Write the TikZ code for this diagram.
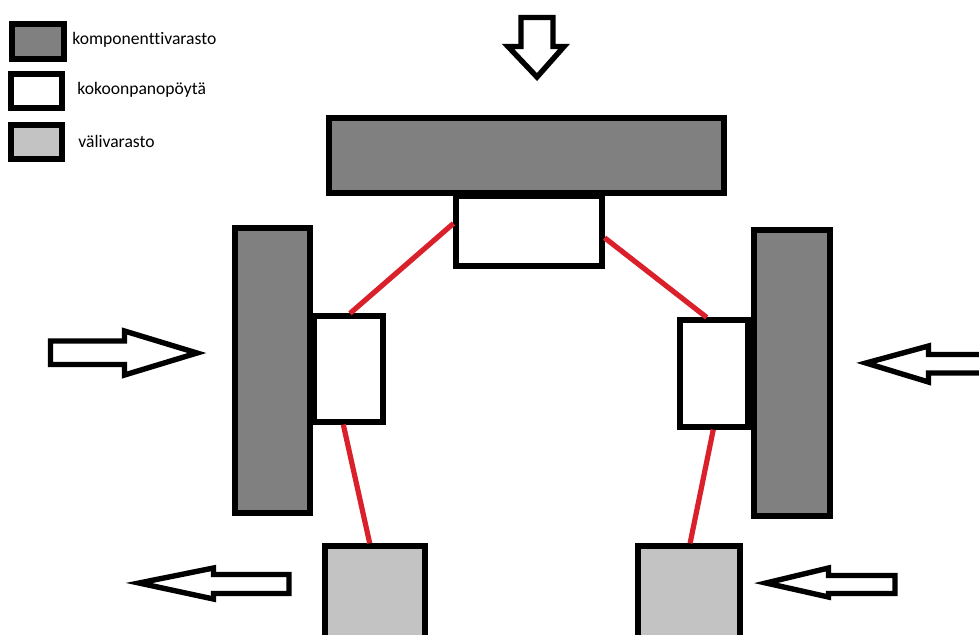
\documentclass[tikz,border=0pt]{standalone}
\usepackage{fontspec}
\setmainfont[Ligatures={NoCommon}]{Carlito}
\usetikzlibrary{calc}
\definecolor{darkbox}{RGB}{128,128,128}
\definecolor{lightbox}{RGB}{195,195,195}
\definecolor{redline}{RGB}{218,33,43}
\tikzset{
  box/.style={draw=black, line width=2.75pt, inner sep=0pt, rectangle},
  darkst/.style={box, fill=darkbox},
  whitest/.style={box, fill=white, line width=2.6pt},
  lightst/.style={box, fill=lightbox},
  link/.style={draw=redline, line width=2.6pt},
  bigarrow/.style={draw=black, fill=white, line width=2.7pt, line join=miter},
  legtext/.style={anchor=base west, inner sep=0pt, font=\fontsize{8.8}{10.5}\selectfont}
}
\begin{document}
\begin{tikzpicture}[x=0.5pt,y=-0.5pt]
\useasboundingbox (0,0) rectangle (979,634);
\clip (0,0) rectangle (979,634);
\fill[white] (0,0) rectangle (979,634);
% legend
\node[darkst, minimum width=26pt, minimum height=17.5pt] (l1) at (38,41.5) {};
\node[whitest, minimum width=25.5pt, minimum height=17pt] (l2) at (36.5,91) {};
\node[lightst, minimum width=25.5pt, minimum height=17pt] (l3) at (36.5,142) {};
\node[legtext] (t1) at (72,44) {komponenttivarasto};
\node[legtext] (t2) at (77,94) {kokoonpanopöytä};
\node[legtext] (t3) at (78,147) {välivarasto};
% boxes
\node[darkst, minimum width=197.5pt, minimum height=37.5pt] (topD) at (526.5,155.5) {};
\node[whitest, minimum width=73pt, minimum height=35pt] (topW) at (529,231) {};
\node[darkst, minimum width=37.5pt, minimum height=142.5pt] (leftD) at (272.5,370.5) {};
\node[whitest, minimum width=34.5pt, minimum height=53pt] (leftW) at (348.5,369) {};
\node[darkst, minimum width=38pt, minimum height=143pt] (rightD) at (792,373) {};
\node[whitest, minimum width=34pt, minimum height=53.5pt] (rightW) at (714,373.5) {};
\node[lightst, minimum width=50pt, minimum height=77pt] (botL) at (375,623) {};
\node[lightst, minimum width=51pt, minimum height=77pt] (botR) at (689,623) {};
% red links
\draw[link] ($(topW.north west)!0.4!(topW.south west)$) -- ($(leftW.north west)!0.52!(leftW.north east)$);
\draw[link] ($(topW.north east)!0.59!(topW.south east)$) -- ($(rightW.north west)!0.4!(rightW.north east)$);
\draw[link] ($(leftW.south west)!0.43!(leftW.south east)$) -- ($(botL.north west)!0.45!(botL.north east)$);
\draw[link] ($(rightW.south west)!0.49!(rightW.south east)$) -- ($(botR.north west)!0.51!(botR.north east)$);
% arrows
\draw[bigarrow] (521,17.5) -- (553,17.5) -- (553,46.5) -- (564,46.5) -- (537,77) -- (508,46.5) -- (521,46.5) -- cycle;
\draw[bigarrow] (50.5,341) -- (124.5,341) -- (124.5,331) -- (197,353) -- (124.5,375) -- (124.5,364.5) -- (50.5,364.5) -- cycle;
\draw[bigarrow] (995,354.5) -- (928.5,354.5) -- (928.5,346) -- (866,363) -- (928.5,382) -- (928.5,373) -- (995,373);
\draw[bigarrow] (289,574.5) -- (213.5,574.5) -- (213.5,568) -- (139,583) -- (213.5,599) -- (213.5,593.5) -- (289,593.5) -- cycle;
\draw[bigarrow] (895,575.5) -- (828.5,575.5) -- (828.5,568) -- (766,583) -- (828.5,597) -- (828.5,593.5) -- (895,593.5) -- cycle;
\end{tikzpicture}
\end{document}
